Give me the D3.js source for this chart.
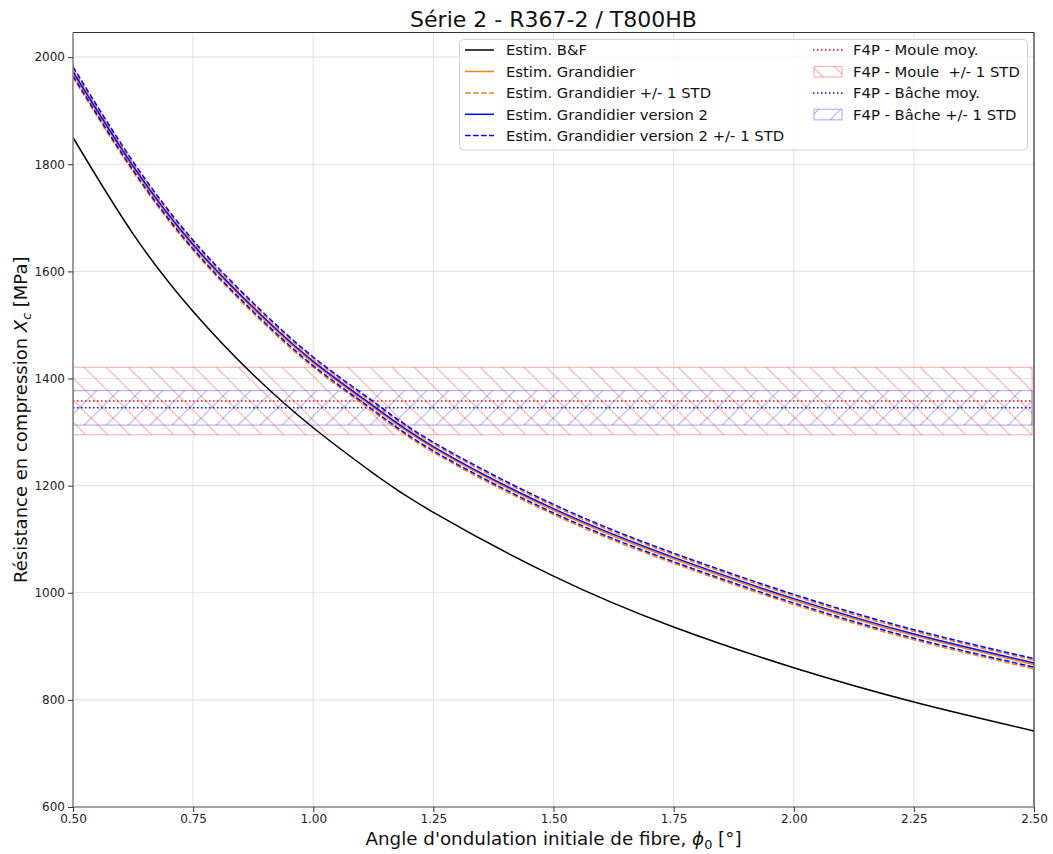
<!DOCTYPE html>
<html><head><meta charset="utf-8">
<script src="https://cdn.jsdelivr.net/npm/d3@7"></script>
<style>
body{margin:0;background:#fff;}
svg{display:block;font-family:"DejaVu Sans",sans-serif;}
</style></head>
<body><div id="chart"></div>
<script>
// ---- data ----
const phi = [0.5,0.625,0.75,0.875,1.0,1.125,1.25,1.5,1.75,2.0,2.25,2.5];
const xcBF = [1850,1670,1525,1407,1308,1223,1150,1031,936,860,796,742];
const xcGrand = [1970,1794,1647,1530,1429,1346,1270,1154,1063,986,920,866];
const xcGrandUp = [1978,1802,1655,1538,1437,1354,1278,1162,1071,994,928,874];
const xcGrandLo = [1962,1786,1639,1522,1421,1338,1262,1146,1055,978,912,858];
const xcGrandV2 = [1973,1797,1650,1533,1432,1349,1273,1157,1066,989,923,869];
const xcGrandV2Up = [1982,1805,1658,1541,1440,1357,1281,1165,1074,997,931,877];
const xcGrandV2Lo = [1965,1789,1642,1525,1424,1341,1265,1149,1058,981,915,861];
const bandX = [0.5, 2.496];
const mouleMean = 1358, mouleLo = 1295, mouleHi = 1421;
const bacheMean = 1345.5, bacheLo = 1313, bacheHi = 1377.5;
const xTicks = [0.5,0.75,1.0,1.25,1.5,1.75,2.0,2.25,2.5];
const yTicks = [600,800,1000,1200,1400,1600,1800,2000];
const titleText = "Série 2 - R367-2 / T800HB";

// ---- layout ----
const W = 1053, H = 854;
const L = 73, R = 1034, T = 32.5, B = 807;
const x = d3.scaleLinear().domain([0.5,2.5]).range([L,R]);
const y = d3.scaleLinear().domain([600,2046]).range([B,T]);

const svg = d3.select("#chart").append("svg").attr("width",W).attr("height",H);
svg.append("rect").attr("width",W).attr("height",H).attr("fill","#fff");
const defs = svg.append("defs");
defs.append("clipPath").attr("id","clip").append("rect").attr("x",L).attr("y",T).attr("width",R-L).attr("height",B-T);

function hatch(id, dir, color, offset){
  const p = defs.append("pattern").attr("id",id).attr("patternUnits","userSpaceOnUse")
    .attr("width",22).attr("height",22).attr("x",offset).attr("y",0);
  const segs = dir === "back" ? [[-11,-11,33,33],[-11,11,11,33],[11,-11,33,11]]
                              : [[-11,33,33,-11],[-11,11,11,-11],[11,33,33,11]];
  segs.forEach(s=>p.append("line").attr("x1",s[0]).attr("y1",s[1]).attr("x2",s[2]).attr("y2",s[3])
    .attr("stroke",color).attr("stroke-width",1.2));
}
hatch("hPink","back","rgba(255,0,0,0.3)",3);
hatch("hBlue","fwd","rgba(0,0,255,0.3)",3.3);
hatch("hPinkL","back","rgba(255,0,0,0.3)",815-3);
hatch("hBlueL","fwd","rgba(0,0,255,0.3)",4);

// grid
const grid = svg.append("g");
xTicks.forEach(t=>grid.append("line").attr("x1",x(t)).attr("x2",x(t)).attr("y1",T).attr("y2",B)
  .attr("stroke","#b0b0b0").attr("stroke-opacity",0.35).attr("stroke-width",1.1));
yTicks.forEach(t=>grid.append("line").attr("y1",y(t)).attr("y2",y(t)).attr("x1",L).attr("x2",R)
  .attr("stroke","#b0b0b0").attr("stroke-opacity",0.35).attr("stroke-width",1.1));

const plot = svg.append("g").attr("clip-path","url(#clip)");

// bands
function band(lo,hi,fill,stroke){
  plot.append("rect").attr("x",x(bandX[0])).attr("y",y(hi)).attr("width",x(bandX[1])-x(bandX[0]))
    .attr("height",y(lo)-y(hi)).attr("fill",fill).attr("stroke",stroke).attr("stroke-width",1.2);
}
band(mouleLo,mouleHi,"url(#hPink)","rgba(255,0,0,0.3)");
band(bacheLo,bacheHi,"url(#hBlue)","rgba(0,0,255,0.3)");

function hline(v,color){
  plot.append("line").attr("x1",x(bandX[0])).attr("x2",x(bandX[1])).attr("y1",y(v)).attr("y2",y(v))
    .attr("stroke",color).attr("stroke-width",1.5).attr("stroke-dasharray","1.5,2.5");
}
hline(mouleMean,"#ff0000");
hline(bacheMean,"#0000ff");

const line = d3.line().x(d=>x(d[0])).y(d=>y(d[1])).curve(d3.curveNatural);
function curve(vals,color,dash){
  plot.append("path").datum(phi.map((p,i)=>[p,vals[i]])).attr("d",line).attr("fill","none")
    .attr("stroke",color).attr("stroke-width",1.5).attr("stroke-dasharray",dash||null);
}
const ORANGE = "#ff7f0e", BLUE = "#0000ff";
const DASH = "5.6,2.4";
curve(xcBF,"#000000");
curve(xcGrand,ORANGE);
curve(xcGrandUp,ORANGE,DASH);
curve(xcGrandLo,ORANGE,DASH);
curve(xcGrandV2,BLUE);
curve(xcGrandV2Up,BLUE,DASH);
curve(xcGrandV2Lo,BLUE,DASH);

// spines
svg.append("line").attr("x1",L).attr("x2",R).attr("y1",T).attr("y2",T).attr("stroke","#333").attr("stroke-width",1.2);
svg.append("line").attr("x1",R).attr("x2",R).attr("y1",T).attr("y2",B).attr("stroke","#333").attr("stroke-width",1.2);
svg.append("line").attr("x1",L).attr("x2",L).attr("y1",T).attr("y2",B).attr("stroke","#888").attr("stroke-width",1.6);
svg.append("line").attr("x1",L).attr("x2",R).attr("y1",B).attr("y2",B).attr("stroke","#888").attr("stroke-width",1.6);

// axes
const ax = svg.append("g").attr("transform",`translate(0,${B})`)
  .call(d3.axisBottom(x).tickValues(xTicks).tickFormat(d3.format(".2f")).tickSize(5).tickPadding(2));
const ay = svg.append("g").attr("transform",`translate(${L},0)`)
  .call(d3.axisLeft(y).tickValues(yTicks).tickFormat(d=>d).tickSize(5).tickPadding(3));
[ax,ay].forEach(a=>{
  a.select(".domain").remove();
  a.selectAll("line").attr("stroke","#333");
  a.selectAll("text").attr("font-family","DejaVu Sans").attr("font-size",12).attr("fill","#222");
});

// title & labels
svg.append("text").attr("x",(L+R)/2).attr("y",27).attr("text-anchor","middle")
  .attr("font-size",22).attr("fill","#111").text(titleText);
const xl = svg.append("text").attr("x",(L+R)/2).attr("y",845).attr("text-anchor","middle")
  .attr("font-size",18.3).attr("fill","#111");
xl.append("tspan").text("Angle d'ondulation initiale de fibre, ");
xl.append("tspan").attr("font-style","italic").text("ϕ");
xl.append("tspan").attr("font-size",12.8).attr("dy",4).text("0");
xl.append("tspan").attr("dy",-4).text(" [°]");
const yl = svg.append("text").attr("transform",`translate(27,${(T+B)/2}) rotate(-90)`).attr("text-anchor","middle")
  .attr("font-size",18).attr("fill","#111");
yl.append("tspan").text("Résistance en compression ");
yl.append("tspan").attr("font-style","italic").text("X");
yl.append("tspan").attr("font-style","italic").attr("font-size",12.6).attr("dy",4).text("c");
yl.append("tspan").attr("dy",-4).text(" [MPa]");

// legend
const lg = svg.append("g");
lg.append("rect").attr("x",459.5).attr("y",39.5).attr("width",568).attr("height",110.5).attr("rx",4)
  .attr("fill","rgba(255,255,255,0.8)").attr("stroke","#d0d0d0").attr("stroke-width",1);
const rowY = [50,71.5,93,114.3,135.6];
const col1 = [
  {t:"Estim. B&F",c:"#000000"},
  {t:"Estim. Grandidier",c:ORANGE},
  {t:"Estim. Grandidier +/- 1 STD",c:ORANGE,d:DASH},
  {t:"Estim. Grandidier version 2",c:BLUE},
  {t:"Estim. Grandidier version 2 +/- 1 STD",c:BLUE,d:DASH}];
col1.forEach((e,i)=>{
  lg.append("line").attr("x1",465).attr("x2",494).attr("y1",rowY[i]).attr("y2",rowY[i])
    .attr("stroke",e.c).attr("stroke-width",1.5).attr("stroke-dasharray",e.d||null);
  lg.append("text").attr("x",506).attr("y",rowY[i]).attr("dy","0.36em").attr("font-size",14.8).attr("fill","#111").text(e.t);
});
const col2 = [
  {t:"F4P - Moule moy.",c:"#ff0000",k:"dot"},
  {t:"F4P - Moule  +/- 1 STD",k:"patch",f:"url(#hPinkL)",s:"rgba(255,0,0,0.3)"},
  {t:"F4P - Bâche moy.",c:"#0000ff",k:"dot"},
  {t:"F4P - Bâche +/- 1 STD",k:"patch",f:"url(#hBlueL)",s:"rgba(0,0,255,0.3)"}];
col2.forEach((e,i)=>{
  if(e.k==="dot"){
    lg.append("line").attr("x1",813).attr("x2",843).attr("y1",rowY[i]).attr("y2",rowY[i])
      .attr("stroke",e.c).attr("stroke-width",1.5).attr("stroke-dasharray","1.5,2.5");
  } else {
    lg.append("rect").attr("x",814).attr("y",rowY[i]-5).attr("width",28).attr("height",10.5)
      .attr("fill",e.f).attr("stroke",e.s).attr("stroke-width",1.2);
  }
  lg.append("text").attr("x",853).attr("y",rowY[i]).attr("dy","0.36em").attr("font-size",14.8).attr("fill","#111")
    .style("white-space","pre").attr("xml:space","preserve").text(e.t);
});
</script></body></html>
